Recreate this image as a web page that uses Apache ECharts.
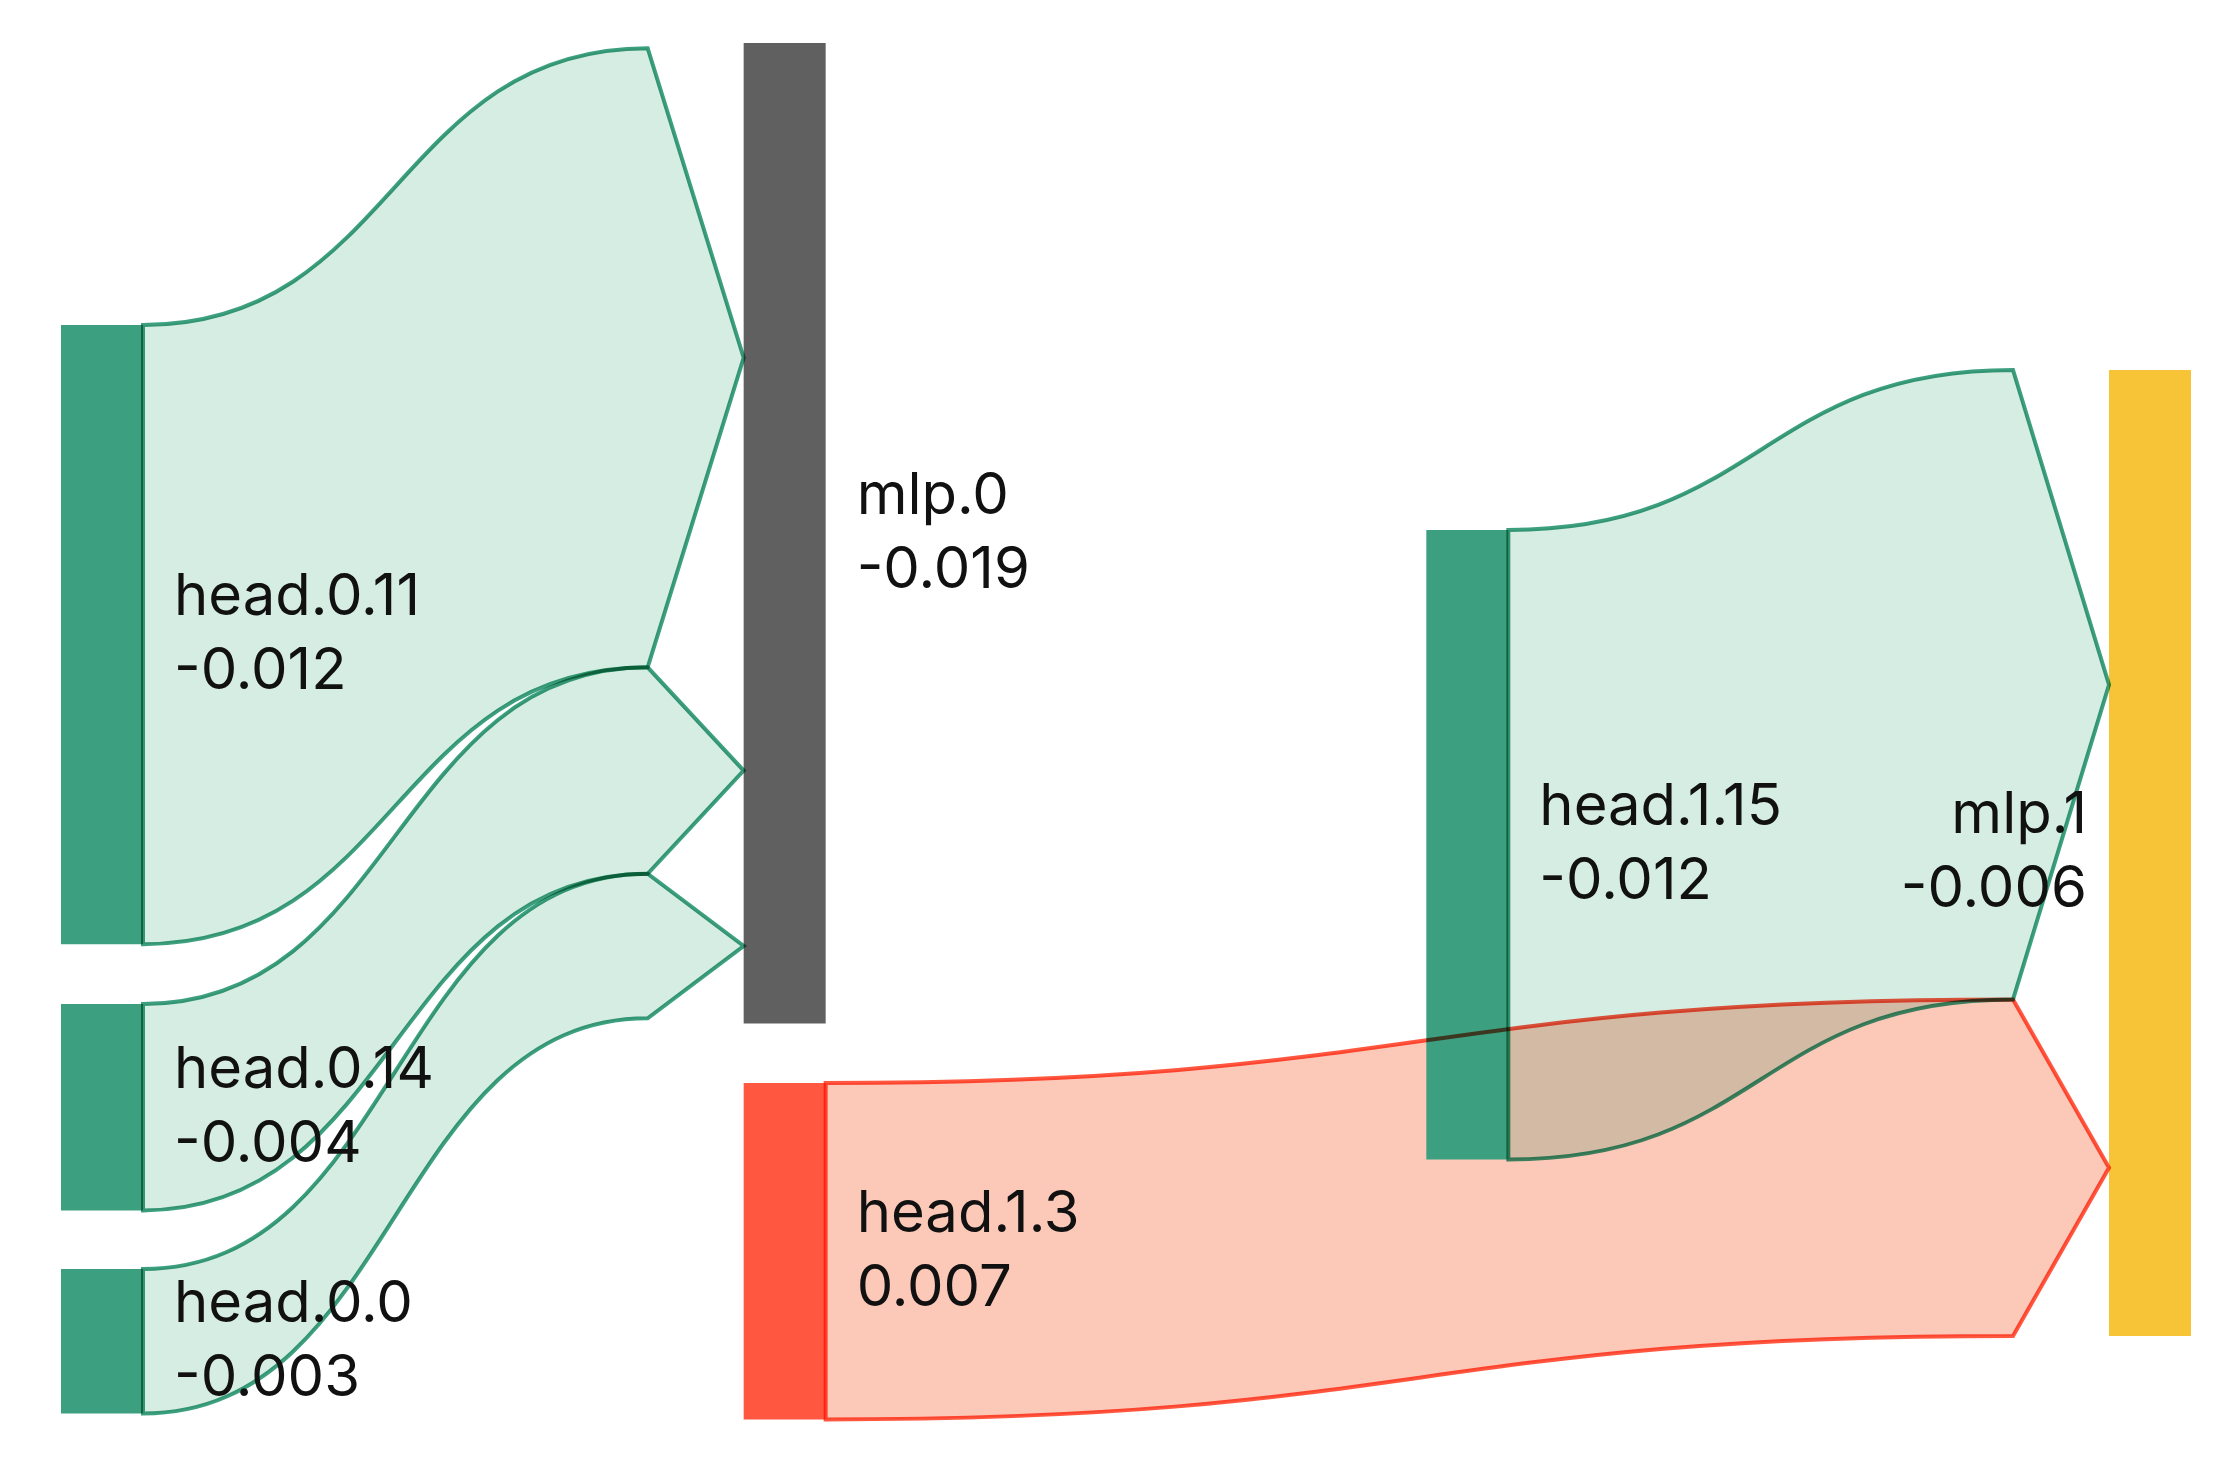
<!DOCTYPE html>
<html>
<head>
<meta charset="utf-8">
<script src="https://cdn.jsdelivr.net/npm/echarts@6/dist/echarts.min.js"></script>
<style>html,body{margin:0;padding:0;background:#fff}#chart{width:2232px;height:1472px}</style>
</head>
<body>
<div id="chart"></div>
<script>
// ---- data ----
const nodeNames  = ['head.0.11', 'head.0.14', 'head.0.0', 'mlp.0', 'head.1.3', 'head.1.15', 'mlp.1'];
const nodeValues = [-0.012, -0.004, -0.0028, -0.019, 0.00652, -0.0122, -0.006];
const linkSource = [0, 1, 2, 5, 4];
const linkTarget = [3, 3, 3, 6, 6];
const linkValues = [-0.012, -0.004, -0.0028, -0.0122, 0.00652];

// ---- layout (column index and top offset in value units) ----
const nodeLayer = [0, 0, 0, 1, 1, 2, 3];
const nodeTop   = [0.005465, 0.018624, 0.02376, 0, 0.020155, 0.009438, 0.006337];
const Y_EXTENT  = 0.026667;

// ---- style ----
const nodeColors = ['#3ca080', '#3ca080', '#3ca080', '#606060', '#ff5740', '#3ca080', '#f8c437'];
const STYLES = {
  multiply: { negFill: '#d6ede3', posFill: '#fcc8b8', blend: 'multiply' },
  alpha:    { negFill: 'rgba(60,160,128,0.21)', posFill: 'rgba(245,72,18,0.3)', blend: null }
};
const NEG_STROKE = '#3ca080', POS_STROKE = '#ff5740';
const NODE_W = 82, ARROW = 96, LABEL_GAP = 31, LABEL_GAP_LEFT = 22;
const FONT = '58px Inter, "Noto Sans", sans-serif';
const MAX_LAYER = Math.max.apply(null, nodeLayer);

function nodeHeight(i) {
  let inSum = 0, outSum = 0;
  linkSource.forEach((s, k) => {
    if (s === i) outSum += Math.abs(linkValues[k]);
    if (linkTarget[k] === i) inSum += Math.abs(linkValues[k]);
  });
  return { h: Math.max(Math.abs(nodeValues[i]), inSum, outSum), inSum, outSum };
}

// link stacking positions in value units
const linkPos = linkSource.map(() => ({}));
nodeNames.forEach((_, i) => {
  const nh = nodeHeight(i);
  const outs = linkSource.map((s, k) => k).filter(k => linkSource[k] === i)
    .sort((a, b) => nodeTop[linkTarget[a]] - nodeTop[linkTarget[b]]);
  let y = nodeTop[i] + (nh.h - nh.outSum) / 2;
  outs.forEach(k => { linkPos[k].sy0 = y; y += Math.abs(linkValues[k]); linkPos[k].sy1 = y; });
  const ins = linkTarget.map((t, k) => k).filter(k => linkTarget[k] === i)
    .sort((a, b) => nodeTop[linkSource[a]] - nodeTop[linkSource[b]]);
  y = nodeTop[i] + (nh.h - nh.inSum) / 2;
  ins.forEach(k => { linkPos[k].ty0 = y; y += Math.abs(linkValues[k]); linkPos[k].ty1 = y; });
});

function linkPathData(api, k) {
  const s = linkSource[k], t = linkTarget[k], lp = linkPos[k];
  const sx = api.coord([nodeLayer[s], 0])[0] + NODE_W;
  const tx = api.coord([nodeLayer[t], 0])[0];
  const ex = tx - ARROW;
  const xm = (sx + ex) / 2;
  const Y = v => api.coord([0, v])[1];
  const sy0 = Y(lp.sy0), sy1 = Y(lp.sy1), ty0 = Y(lp.ty0), ty1 = Y(lp.ty1);
  const tipY = (ty0 + ty1) / 2;
  return 'M' + sx + ' ' + sy0 +
    ' C' + xm + ' ' + sy0 + ' ' + xm + ' ' + ty0 + ' ' + ex + ' ' + ty0 +
    ' L' + tx + ' ' + tipY +
    ' L' + ex + ' ' + ty1 +
    ' C' + xm + ' ' + ty1 + ' ' + xm + ' ' + sy1 + ' ' + sx + ' ' + sy1 + ' Z';
}

function linkSeries(kind, z, mode) {
  const st = STYLES[mode];
  return {
    type: 'custom', coordinateSystem: 'cartesian2d', clip: false, silent: true, z: z,
    data: linkSource.map((s, k) => [k, 0]),
    renderItem: function (params, api) {
      const k = api.value(0);
      const neg = linkValues[k] < 0;
      const style = kind === 'fill'
        ? { fill: neg ? st.negFill : st.posFill, stroke: null }
        : { fill: null, stroke: neg ? NEG_STROKE : POS_STROKE, lineWidth: 4, lineJoin: 'miter' };
      if (st.blend) style.blend = st.blend;
      return { type: 'path', name: 'link-' + kind, shape: { pathData: linkPathData(api, k) }, style: style };
    }
  };
}

function buildOption(mode) {
  return {
    backgroundColor: '#ffffff',
    animation: false,
    grid: { left: 61, right: 123, top: 43, bottom: 53 },
    xAxis: { type: 'value', min: 0, max: MAX_LAYER, show: false },
    yAxis: { type: 'value', min: 0, max: Y_EXTENT, inverse: true, show: false },
    series: [
      linkSeries('fill', 1, mode),
      {
        type: 'custom', coordinateSystem: 'cartesian2d', clip: false, silent: true, z: 2,
        data: nodeNames.map((n, i) => [i, 0]),
        renderItem: function (params, api) {
          const i = api.value(0);
          const h = nodeHeight(i).h;
          const p0 = api.coord([nodeLayer[i], nodeTop[i]]);
          const p1 = api.coord([nodeLayer[i], nodeTop[i] + h]);
          return { type: 'rect', shape: { x: p0[0], y: p0[1], width: NODE_W, height: p1[1] - p0[1] },
                   style: { fill: nodeColors[i] } };
        }
      },
      linkSeries('stroke', 3, mode),
      {
        type: 'custom', coordinateSystem: 'cartesian2d', clip: false, silent: true, z: 4,
        data: nodeNames.map((n, i) => [i, 0]),
        renderItem: function (params, api) {
          const i = api.value(0);
          const h = nodeHeight(i).h;
          const p0 = api.coord([nodeLayer[i], nodeTop[i]]);
          const p1 = api.coord([nodeLayer[i], nodeTop[i] + h]);
          const last = nodeLayer[i] === MAX_LAYER;
          return {
            type: 'text',
            x: last ? p0[0] - LABEL_GAP_LEFT : p0[0] + NODE_W + LABEL_GAP,
            y: (p0[1] + p1[1]) / 2,
            style: {
              text: nodeNames[i] + '\n' + nodeValues[i].toFixed(3),
              font: FONT, fill: '#111111', lineHeight: 74,
              align: last ? 'right' : 'left', verticalAlign: 'middle'
            }
          };
        }
      }
    ]
  };
}

const chart = echarts.init(document.getElementById('chart'), null, { renderer: 'canvas' });
chart.setOption(buildOption('multiply'), true);

// make sure the multiply blend reaches the zrender elements
function forceBlend() {
  const zr = chart.getZr();
  zr.storage.getDisplayList(true).forEach(el => {
    if (el.name === 'link-fill' || el.name === 'link-stroke') {
      el.style.blend = 'multiply';
      el.markRedraw();
    }
  });
  zr.refreshImmediately();
}
function blendOk() {
  try {
    const p = chart.convertToPixel({ xAxisIndex: 0, yAxisIndex: 0 }, [2.3, 0.0201]);
    const cv = chart.getDom().querySelector('canvas');
    const d = cv.getContext('2d').getImageData(Math.round(p[0]), Math.round(p[1]), 1, 1).data;
    return d[1] < 193;
  } catch (e) { return false; }
}
try { forceBlend(); } catch (e) {}
if (!blendOk()) {
  chart.setOption(buildOption('alpha'), true);
}
</script>
</body>
</html>
